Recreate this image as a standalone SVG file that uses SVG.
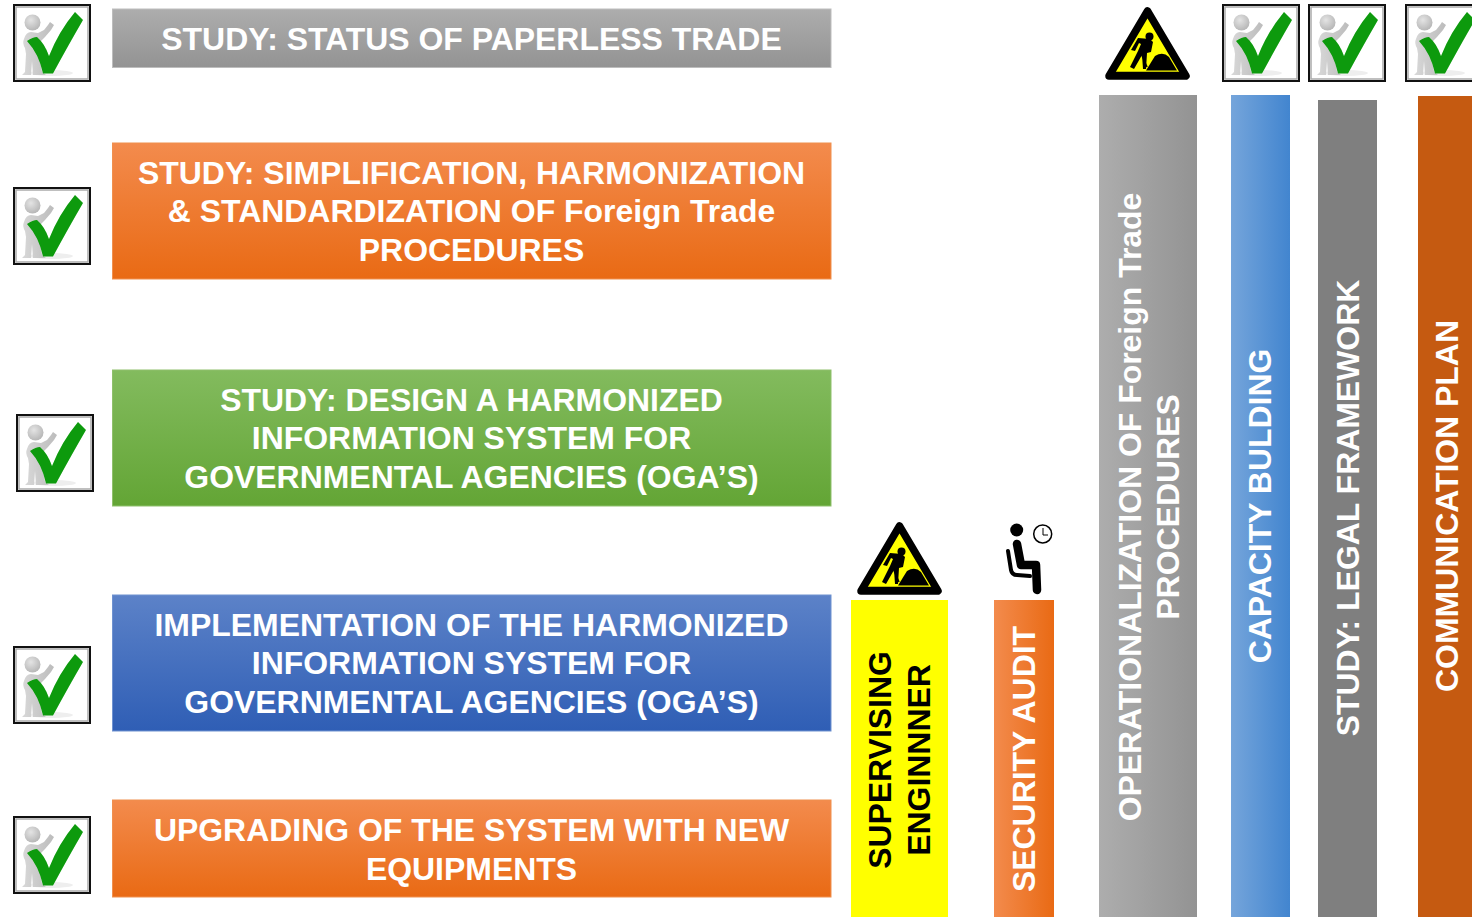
<svg xmlns="http://www.w3.org/2000/svg" width="1472" height="917" viewBox="0 0 1472 917">
<style>
.t{font-family:"Liberation Sans",Arial,sans-serif;font-weight:700;font-size:31.950px;fill:#fff;text-anchor:middle}
.k{fill:#000}
.box{stroke-width:1}
</style>
<defs>
<linearGradient id="gGrey" x1="0" y1="0" x2="0" y2="1"><stop offset="0" stop-color="#adadad"/><stop offset="1" stop-color="#939393"/></linearGradient>
<linearGradient id="gOrange" x1="0" y1="0" x2="0" y2="1"><stop offset="0" stop-color="#f38b4d"/><stop offset="1" stop-color="#e96a14"/></linearGradient>
<linearGradient id="gGreen" x1="0" y1="0" x2="0" y2="1"><stop offset="0" stop-color="#83bb5e"/><stop offset="1" stop-color="#63a535"/></linearGradient>
<linearGradient id="gBlue" x1="0" y1="0" x2="0" y2="1"><stop offset="0" stop-color="#5c82c8"/><stop offset="1" stop-color="#2f5eb5"/></linearGradient>
<linearGradient id="hOrange" x1="0" y1="0" x2="1" y2="0"><stop offset="0" stop-color="#f38b4d"/><stop offset="1" stop-color="#e96a14"/></linearGradient>
<linearGradient id="hGrey" x1="0" y1="0" x2="1" y2="0"><stop offset="0" stop-color="#adadad"/><stop offset="1" stop-color="#939393"/></linearGradient>
<linearGradient id="hBlue" x1="0" y1="0" x2="1" y2="0"><stop offset="0" stop-color="#75a5db"/><stop offset="1" stop-color="#4285cf"/></linearGradient>
<radialGradient id="hd" cx="0.4" cy="0.35" r="0.7"><stop offset="0" stop-color="#e4e4e4"/><stop offset="1" stop-color="#b4b4b4"/></radialGradient>
<linearGradient id="fig" x1="0" y1="0" x2="1" y2="0"><stop offset="0" stop-color="#d8d8d8"/><stop offset="1" stop-color="#bcbcbc"/></linearGradient>
<filter id="soft" x="-5%" y="-5%" width="110%" height="110%"><feGaussianBlur stdDeviation="0.5"/></filter>
<symbol id="check" width="78" height="78" viewBox="0 0 78 78">
<rect x="0" y="0" width="78" height="78" fill="#111"/>
<rect x="2" y="2" width="74" height="74" fill="#fff"/>
<rect x="3" y="3" width="72" height="72" fill="none" stroke="#aaa" stroke-width="1.500" filter="url(#soft)"/>
<g filter="url(#soft)">
<ellipse cx="38" cy="69" rx="22" ry="3" fill="#eee"/>
<path d="M11 35 Q13 28 18 28 L25 29 L31 26 L35 21 L37 18 L41 21 L38 26 L32 33 L28 37 L27 52 L29 68 L33 71 L20 71 L19 57 L18 71 L9 71 L12 68 L13 50 L12 44 Q9 39 11 35Z" fill="url(#fig)"/>
<circle cx="19.500" cy="18.500" r="8" fill="url(#hd)"/>
<path d="M62 8 L70 16 Q56 40 40 69.500 L30 69.500 Q26 50 14 37 Q20 33 24 33 Q32 40 36 52 Q46 27 62 8Z" fill="#0a9a0a"/>
</g>
</symbol>
<symbol id="sign" width="85" height="73" viewBox="0 0 85 73">
<path d="M42.500 4 L81 69 L4 69Z" fill="#ffff00" stroke="#000" stroke-width="7.500" stroke-linejoin="round"/>
<path d="M9 65.500 L76 65.500" stroke="#000" stroke-width="1.500"/>
<circle cx="44.500" cy="29.500" r="4" class="k"/>
<path d="M33 31 L45 32 L48 35 L46 45 L42 46 L41 62 L38 62 L37 48 L29 62 L25 60 L33 44 L36 37 L34 36 L30 44 L26 43Z" class="k"/>
<path d="M35 44 L42 60" stroke="#000" stroke-width="1.500"/>
<path d="M41 63.500 L50 49 Q58 44 64 50 L72 63.500Z" class="k"/>
</symbol>
</defs>

<g id="connectors"></g>

<g id="check-1"><use href="#check" x="13" y="4"/></g>
<g id="check-2"><use href="#check" x="13" y="187"/></g>
<g id="check-3"><use href="#check" x="16" y="414"/></g>
<g id="check-4"><use href="#check" x="13" y="646"/></g>
<g id="check-5"><use href="#check" x="13" y="816"/></g>
<g id="check-6"><use href="#check" x="1222" y="4"/></g>
<g id="check-7"><use href="#check" x="1308" y="4"/></g>
<g id="check-8"><use href="#check" x="1405" y="4"/></g>

<g id="box-status">
<rect class="box" x="112.500" y="9" width="718.500" height="58.500" fill="url(#gGrey)" stroke="#bdbdbd"/>
<text class="t" x="471.500" y="49.500">STUDY: STATUS OF PAPERLESS TRADE</text>
</g>
<g id="box-simplification">
<rect class="box" x="112.500" y="143" width="718.500" height="136" fill="url(#gOrange)" stroke="#f0904f"/>
<text class="t" x="471.500" y="184">STUDY: SIMPLIFICATION, HARMONIZATION</text>
<text class="t" x="471.500" y="222">&amp; STANDARDIZATION OF Foreign Trade</text>
<text class="t" x="471.500" y="261">PROCEDURES</text>
</g>
<g id="box-design">
<rect class="box" x="112.500" y="370" width="718.500" height="136" fill="url(#gGreen)" stroke="#8fc06c"/>
<text class="t" x="471.500" y="411">STUDY: DESIGN A HARMONIZED</text>
<text class="t" x="471.500" y="449">INFORMATION SYSTEM FOR</text>
<text class="t" x="471.500" y="488">GOVERNMENTAL AGENCIES (OGA’S)</text>
</g>
<g id="box-implementation">
<rect class="box" x="112.500" y="595" width="718.500" height="136" fill="url(#gBlue)" stroke="#6f92d0"/>
<text class="t" x="471.500" y="636">IMPLEMENTATION OF THE HARMONIZED</text>
<text class="t" x="471.500" y="674">INFORMATION SYSTEM FOR</text>
<text class="t" x="471.500" y="713">GOVERNMENTAL AGENCIES (OGA’S)</text>
</g>
<g id="box-upgrading">
<rect class="box" x="112.500" y="800" width="718.500" height="97" fill="url(#gOrange)" stroke="#f0904f"/>
<text class="t" x="471.500" y="841">UPGRADING OF THE SYSTEM WITH NEW</text>
<text class="t" x="471.500" y="880">EQUIPMENTS</text>
</g>

<g id="bar-supervising">
<use href="#sign" x="857" y="522"/>
<rect x="851" y="600" width="97" height="317" fill="#ffff00"/>
<text class="t" style="fill:#000" transform="translate(891 760) rotate(-90)">SUPERVISING</text>
<text class="t" style="fill:#000" transform="translate(930 760) rotate(-90)">ENGINNNER</text>
</g>
<g id="bar-security">
<circle cx="1016.700" cy="530" r="6.500" class="k"/>
<path d="M1017 544 L1021 565 L1036 565 L1037 590" fill="none" stroke="#000" stroke-width="8.500" stroke-linecap="round" stroke-linejoin="round"/>
<path d="M1008 551 L1011 570 Q1012 575 1017 575 L1030 576" fill="none" stroke="#000" stroke-width="4" stroke-linecap="round" stroke-linejoin="round"/>
<circle cx="1042.700" cy="534" r="9" fill="#fff" stroke="#000" stroke-width="1.500"/>
<path d="M1043 528 L1043 535 L1048 535" fill="none" stroke="#000" stroke-width="1"/>
<rect x="994" y="600" width="60" height="317" fill="url(#hOrange)"/>
<text class="t" transform="translate(1035 759) rotate(-90)">SECURITY AUDIT</text>
</g>
<g id="bar-operationalization">
<use href="#sign" x="1105" y="7"/>
<rect x="1099" y="95" width="98" height="822" fill="url(#hGrey)"/>
<text class="t" transform="translate(1141 507) rotate(-90)">OPERATIONALIZATION OF Foreign Trade</text>
<text class="t" transform="translate(1179 507) rotate(-90)">PROCEDURES</text>
</g>
<g id="bar-capacity">
<rect x="1231" y="95" width="59" height="822" fill="url(#hBlue)"/>
<text class="t" transform="translate(1271 506) rotate(-90)">CAPACITY BULDING</text>
</g>
<g id="bar-legal">
<rect x="1318" y="100" width="59" height="817" fill="#7f7f7f"/>
<text class="t" transform="translate(1359 508) rotate(-90)">STUDY: LEGAL FRAMEWORK</text>
</g>
<g id="bar-communication">
<rect x="1418" y="96" width="54" height="821" fill="#c55a11"/>
<text class="t" transform="translate(1458 506) rotate(-90)">COMMUNICATION PLAN</text>
</g>
</svg>
